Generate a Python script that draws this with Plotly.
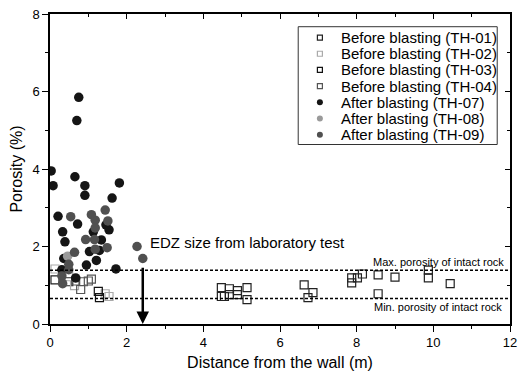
import plotly.graph_objects as go

# ---- data ----
th01_x = [4.47, 4.47, 4.55, 4.68, 4.68, 4.89, 4.89, 5.14, 5.14, 6.63, 6.73, 6.86,
          7.87, 7.87, 8.02, 8.15, 8.56, 8.56, 9.0, 9.87, 9.87, 10.44, 0.13, 0.49]
th01_y = [0.94, 0.71, 0.71, 0.91, 0.76, 0.86, 0.76, 0.94, 0.63, 1.01, 0.68, 0.81,
          1.19, 1.06, 1.19, 1.29, 1.27, 0.78, 1.21, 1.39, 1.19, 1.04, 1.14, 1.09]
th02_x = [0.13, 0.49, 0.64, 1.44, 1.54]
th02_y = [1.42, 1.22, 0.99, 0.78, 0.71]
th03_x = [1.26, 1.29]
th03_y = [0.84, 0.68]
th04_x = [0.67, 0.80, 0.87, 1.00, 1.08]
th04_y = [1.11, 0.89, 1.09, 1.11, 1.16]
th07_x = [0.75, 0.70, 0.03, 0.08, 0.65, 0.91, 0.91, 1.62, 1.81, 0.21, 0.72, 1.46, 1.13,
          1.54, 0.33, 0.39, 1.34, 1.03, 1.29, 0.36, 1.21, 0.95, 0.31, 1.72, 0.67]
th07_y = [5.85, 5.25, 3.95, 3.57, 3.80, 3.57, 3.32, 3.25, 3.64, 2.78, 2.58, 2.56, 2.38,
          2.43, 2.38, 2.12, 2.17, 1.87, 1.90, 1.69, 1.64, 1.52, 1.40, 1.42, 1.19]
th08_x = [0.46]
th08_y = [1.75]
th09_x = [0.54, 1.08, 1.44, 1.18, 1.51, 1.18, 0.93, 1.16, 1.18, 1.49, 0.64, 0.49, 0.49,
          2.27, 2.42, 0.31, 0.33]
th09_y = [2.77, 2.82, 2.94, 2.68, 2.66, 2.48, 2.18, 2.18, 1.93, 1.97, 1.85, 1.54, 1.40,
          2.00, 1.69, 1.24, 1.04]
series_names = ["Before blasting (TH-01)", "Before blasting (TH-02)",
                "Before blasting (TH-03)", "Before blasting (TH-04)",
                "After blasting (TH-07)", "After blasting (TH-08)",
                "After blasting (TH-09)"]
max_porosity = 1.39
min_porosity = 0.66
edz_size = 2.42
edz_top = 1.49

FONT = "Liberation Sans, Arial, sans-serif"

series = [
    (th01_x, th01_y, series_names[0], "square", "#222222"),
    (th02_x, th02_y, series_names[1], "square", "#aaaaaa"),
    (th03_x, th03_y, series_names[2], "square", "#111111"),
    (th04_x, th04_y, series_names[3], "square", "#555555"),
    (th07_x, th07_y, series_names[4], "circle", "#151515"),
    (th08_x, th08_y, series_names[5], "circle", "#9a9a9a"),
    (th09_x, th09_y, series_names[6], "circle", "#505050"),
]

fig = go.Figure()

for x, y, name, kind, color in series:
    if kind == "square":
        marker = dict(symbol="square-open", size=8, color=color, line=dict(width=1.2, color=color))
    else:
        marker = dict(symbol="circle", size=9.5, color=color, line=dict(width=0))
    fig.add_trace(go.Scatter(x=x, y=y, mode="markers", name=name, marker=marker,
                             showlegend=False))

# dummy trace for mirrored axes
fig.add_trace(go.Scatter(x=[None], y=[None], xaxis="x2", yaxis="y2", showlegend=False,
                         hoverinfo="skip"))

for yv in (max_porosity, min_porosity):
    fig.add_shape(type="line", xref="x", yref="y", x0=0, x1=12, y0=yv, y1=yv,
                  line=dict(color="black", width=1.5, dash="3px,2px"))

fig.add_annotation(x=12, y=max_porosity, xref="x", yref="y", text="Max. porosity of intact rock",
                   showarrow=False, xanchor="right", yanchor="bottom", xshift=-4, yshift=0,
                   font=dict(size=11, family=FONT, color="black"))
fig.add_annotation(x=12, y=min_porosity, xref="x", yref="y", text="Min. porosity of intact rock",
                   showarrow=False, xanchor="right", yanchor="top", xshift=-6, yshift=-1,
                   font=dict(size=11, family=FONT, color="black"))
fig.add_annotation(x=edz_size, y=0, ax=edz_size, ay=edz_top, xref="x", yref="y",
                   axref="x", ayref="y", text="", showarrow=True, arrowhead=2,
                   arrowsize=1, arrowwidth=2.5, arrowcolor="black")
fig.add_annotation(x=2.55, y=2.1, xref="x", yref="y", text="EDZ size from laboratory test",
                   showarrow=False, xanchor="left", yanchor="middle",
                   font=dict(size=15, family=FONT, color="black"))

# ---- custom legend (paper coords) ----
lg_x0, lg_x1, lg_y0, lg_y1 = 0.5396, 0.9722, 0.579, 0.959
fig.add_shape(type="rect", xref="paper", yref="paper", x0=lg_x0, x1=lg_x1, y0=lg_y0, y1=lg_y1,
              line=dict(color="#333333", width=1), fillcolor="white", layer="above")
row_top = (324 - 32) / 316
row_pitch = 16.5 / 316
mk_x = 274 / 467
tx_x = 293 / 467
for i, (_, _, name, kind, color) in enumerate(series):
    ry = row_top - i * row_pitch
    fig.add_annotation(x=tx_x, y=ry, xref="paper", yref="paper", text=name, showarrow=False,
                       xanchor="left", yanchor="middle",
                       font=dict(size=15, family=FONT, color="black"))
    if kind == "square":
        fig.add_shape(type="rect", xref="paper", yref="paper", xsizemode="pixel",
                      ysizemode="pixel", xanchor=mk_x, yanchor=ry, x0=-2.5, x1=2.5, y0=-2.5,
                      y1=2.5, line=dict(color=color, width=1.2), fillcolor="white",
                      layer="above")
    else:
        fig.add_shape(type="circle", xref="paper", yref="paper", xsizemode="pixel",
                      ysizemode="pixel", xanchor=mk_x, yanchor=ry, x0=-3, x1=3, y0=-3,
                      y1=3, line=dict(color=color, width=0), fillcolor=color,
                      layer="above")

axis_common = dict(showgrid=False, zeroline=False, showline=True, linecolor="black",
                   linewidth=1.5, tickcolor="black", tickwidth=1.2,
                   tickfont=dict(size=13, family=FONT, color="black"))

fig.update_layout(
    width=524, height=377,
    margin=dict(l=50, r=7, t=8, b=53),
    plot_bgcolor="white", paper_bgcolor="white",
    font=dict(family=FONT, color="black"),
    showlegend=False,
    xaxis=dict(range=[0, 12], dtick=2, ticks="outside", ticklen=6, ticklabeloverflow="allow",
               minor=dict(dtick=1, ticks="outside", ticklen=3, tickcolor="black"),
               title=dict(text="Distance from the wall (m)", font=dict(size=16, family=FONT),
                          standoff=7),
               **axis_common),
    yaxis=dict(range=[0, 8], dtick=2, ticks="outside", ticklen=6, ticklabeloverflow="allow",
               minor=dict(dtick=1, ticks="outside", ticklen=3, tickcolor="black"),
               title=dict(text="Porosity (%)", font=dict(size=16, family=FONT), standoff=6),
               **axis_common),
    xaxis2=dict(range=[0, 12], overlaying="x", side="top", anchor="y2", dtick=2,
                ticks="inside", ticklen=5, showticklabels=False,
                minor=dict(dtick=1, ticks="inside", ticklen=3, tickcolor="black"),
                **axis_common),
    yaxis2=dict(range=[0, 8], overlaying="y", side="right", anchor="x2", dtick=2,
                ticks="inside", ticklen=5, showticklabels=False,
                minor=dict(dtick=1, ticks="inside", ticklen=3, tickcolor="black"),
                **axis_common),
)

fig.write_html("out.html")
